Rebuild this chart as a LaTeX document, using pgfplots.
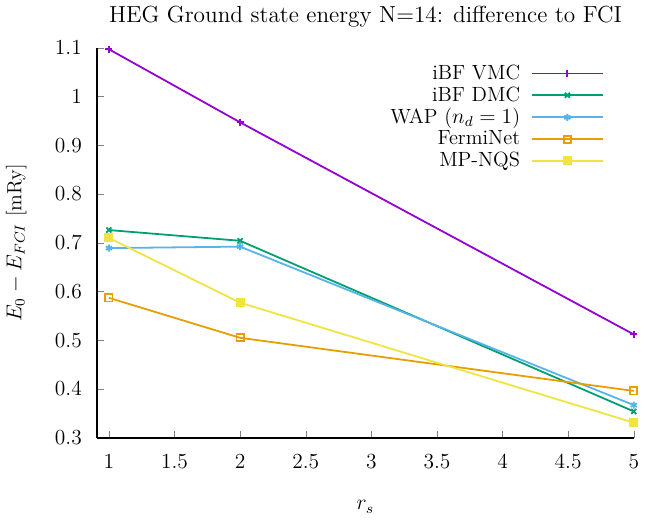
\documentclass[border=0pt]{standalone}
\usepackage{pgfplots}
\pgfplotsset{compat=1.18}
\definecolor{c1}{HTML}{9400D3}
\definecolor{c2}{HTML}{009E73}
\definecolor{c3}{HTML}{56B4E9}
\definecolor{c4}{HTML}{E69F00}
\definecolor{c5}{HTML}{F0E442}
\begin{document}
\begin{tikzpicture}
\begin{axis}[
  scale only axis,
  width=300pt, height=218pt,
  xmin=0.91, xmax=5, ymin=0.3, ymax=1.1,
  axis x line*=bottom, axis y line*=left,
  axis line style={line width=0.9pt},
  tick align=inside,
  xtick={1,1.5,...,5}, ytick={0.3,0.4,...,1.1},
  ticklabel style={font=\fontsize{12}{14}\selectfont},
  xticklabel style={/pgf/number format/fixed, yshift=-6pt},
  yticklabel style={/pgf/number format/fixed, xshift=-5pt},
  major tick length=4pt,
  title={HEG Ground state energy N=14:  difference to FCI},
  title style={font=\fontsize{13}{15}\selectfont, yshift=2pt},
  xlabel={$r_s$},
  xlabel style={font=\fontsize{11.5}{14}\selectfont, yshift=-11pt},
  ylabel={$E_0 - E_{FCI}$ [mRy]},
  ylabel style={font=\fontsize{11.5}{14}\selectfont, yshift=9pt},
  legend style={draw=none, fill=none, at={(rel axis cs:0.955,0.975)}, anchor=north east, row sep=-1.5pt, column sep=4pt, font=\fontsize{11.5}{13}\selectfont},
  legend cell align=right,
  legend plot pos=right,
  legend image code/.code={\draw[mark repeat=2,mark phase=2] plot coordinates {(0cm,0cm) (0.7cm,0cm) (1.4cm,0cm)};},
]
\addplot[c1, line width=1pt, mark=+, mark size=2pt] coordinates {(1,1.097) (2,0.947) (5,0.512)};
\addlegendentry{iBF VMC}
\addplot[c2, line width=1pt, mark=x, mark size=2pt] coordinates {(1,0.726) (2,0.704) (5,0.354)};
\addlegendentry{iBF DMC}
\addplot[c3, line width=1pt, mark=asterisk, mark size=2pt] coordinates {(1,0.689) (2,0.692) (5,0.367)};
\addlegendentry{WAP ($n_d=1$)}
\addplot[c4, line width=1pt, mark=square, mark size=2pt] coordinates {(1,0.587) (2,0.505) (5,0.396)};
\addlegendentry{FermiNet}
\addplot[c5, line width=1pt, mark=square*, mark size=2pt] coordinates {(1,0.710) (2,0.577) (5,0.331)};
\addlegendentry{MP-NQS}
\end{axis}
\end{tikzpicture}
\end{document}
